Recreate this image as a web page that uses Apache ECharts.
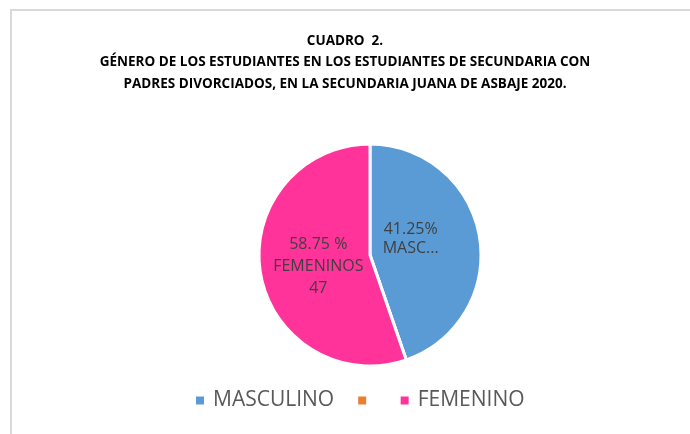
<!DOCTYPE html>
<html lang="es">
<head>
    <meta charset="UTF-8">
    <title>Cuadro 2</title>
    <script src="https://cdn.jsdelivr.net/npm/echarts@6/dist/echarts.min.js"></script>
    <style>
        html, body { margin: 0; padding: 0; background: #fff; }
        #main { width: 690px; height: 434px; }
    </style>
</head>
<body>
<div id="main"></div>
<script>
    // datos del cuadro
    var categorias = ['MASCULINO', ' ', 'FEMENINO'];
    var valores = [38, 0, 47];
    var etiquetas = ['41.25%\nMASC...', '', '58.75 %\nFEMENINOS\n47'];
    var titulo = 'CUADRO  2.\nGÉNERO DE LOS ESTUDIANTES EN LOS ESTUDIANTES DE SECUNDARIA CON\nPADRES DIVORCIADOS, EN LA SECUNDARIA JUANA DE ASBAJE 2020.';

    // estilo de cada rebanada
    var colores = ['#5B9BD5', '#ED7D31', '#FF3399'];
    var desplazamientos = [[-17, -6], [0, 0], [6, 2]];
    var interlineado = [19, 22, 22];

    var datos = [];
    var leyenda = [];
    for (var i = 0; i < categorias.length; i++) {
        datos.push({
            name: categorias[i],
            value: valores[i],
            itemStyle: {color: colores[i]},
            label: {
                show: etiquetas[i] !== '',
                offset: desplazamientos[i],
                lineHeight: interlineado[i]
            }
        });
        leyenda.push({
            name: categorias[i],
            textStyle: {padding: categorias[i].trim() === '' ? 0 : [0, 0, 0, 4]}
        });
    }

    var myChart = echarts.init(document.getElementById('main'));
    var option = {
        backgroundColor: '#fff',
        animation: false,
        title: {
            text: titulo,
            left: 'center',
            top: 25,
            textStyle: {
                fontFamily: 'Open Sans',
                fontSize: 13.5,
                fontWeight: 'bold',
                color: '#000',
                lineHeight: 21.5
            }
        },
        graphic: [
            {type: 'line', shape: {x1: 10, y1: 10, x2: 690, y2: 10}, style: {stroke: '#d9d9d9', lineWidth: 2}},
            {type: 'line', shape: {x1: 11, y1: 10, x2: 11, y2: 434}, style: {stroke: '#d9d9d9', lineWidth: 2}}
        ],
        legend: {
            data: leyenda,
            top: 390,
            left: 196,
            padding: 0,
            icon: 'rect',
            itemWidth: 8,
            itemHeight: 8,
            itemGap: 24,
            itemStyle: {borderWidth: 0},
            textStyle: {
                fontFamily: 'Open Sans',
                fontSize: 21,
                color: '#595959'
            }
        },
        series: [
            {
                name: 'Género',
                type: 'pie',
                center: [370, 255],
                radius: ['0%', 111],
                startAngle: 90,
                clockwise: true,
                minAngle: 0,
                itemStyle: {
                    borderColor: '#fff',
                    borderWidth: 3
                },
                label: {
                    position: 'inner',
                    fontFamily: 'Open Sans',
                    fontSize: 16,
                    color: '#404040',
                    formatter: function (params) {
                        return etiquetas[params.dataIndex];
                    }
                },
                labelLine: {show: false},
                emphasis: {disabled: true},
                data: datos
            }
        ]
    };
    myChart.setOption(option);
</script>
</body>
</html>
